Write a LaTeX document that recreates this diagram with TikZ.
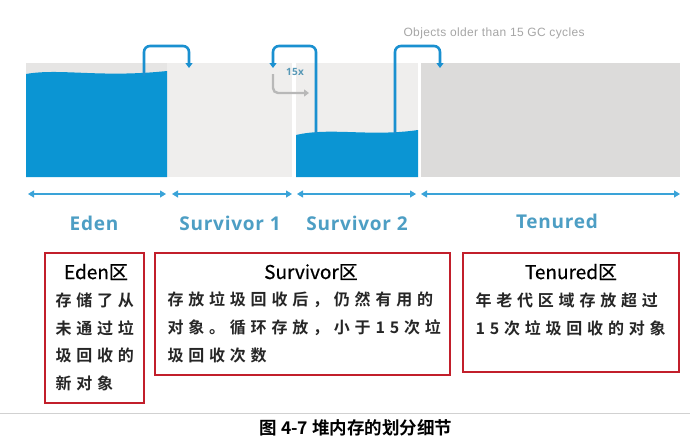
\documentclass[tikz,border=0pt]{standalone}
\usepackage{fontspec}
\setmainfont{Open Sans}
\newfontfamily\cjk[FakeBold=0.6]{Noto Sans CJK SC}
\newfontfamily\cjkb[LetterSpace=30]{Noto Sans CJK SC Bold}
\newfontfamily\capfont{Noto Sans CJK SC Bold}
\newfontfamily\lbl[LetterSpace=4]{Open Sans}
\newfontfamily\smallsans[LetterSpace=3]{Liberation Sans}
\usetikzlibrary{arrows.meta}
\definecolor{water}{HTML}{0B95D3}
\definecolor{lgrey}{HTML}{EFEEED}
\definecolor{tgrey}{HTML}{DCDBDA}
\definecolor{egrey}{HTML}{E6E5E4}
\definecolor{arrowblue}{HTML}{1A90D0}
\definecolor{dimblue}{HTML}{3AA3D8}
\definecolor{lbltxt}{HTML}{4D9EC4}
\definecolor{boxred}{HTML}{C21F2B}
\definecolor{greyarrow}{HTML}{B8B8B8}
\tikzset{
  region/.style={inner sep=0pt, outer sep=0pt, draw=none},
  flow/.style={draw=arrowblue, line width=2.6pt, rounded corners=6pt, -{Triangle[length=5pt,width=7pt]}},
  dim/.style={draw=dimblue, line width=1.1pt, {Triangle[length=6pt,width=7pt]}-{Triangle[length=6pt,width=7pt]}},
  zone/.style={font=\lbl\bfseries\fontsize{19}{22}\selectfont, text=lbltxt},
  redbox/.style={draw=boxred, line width=2.2pt, inner sep=0pt},
  btitle/.style={font=\cjk\fontsize{19}{21}\selectfont, text=black},
  bline/.style={font=\cjkb\fontsize{16}{18}\selectfont, anchor=west, text=black!85},
}
\begin{document}
\begin{tikzpicture}[x=1pt,y=-1pt]
\useasboundingbox (0,0) rectangle (690,442);
\fill[white] (0,0) rectangle (690,442);
% regions
\node[region, fill=egrey, minimum width=141pt, minimum height=114pt, anchor=north west] (eden) at (26,63) {};
\node[region, fill=lgrey, minimum width=125pt, minimum height=114pt, anchor=north west] (s1) at (167,63) {};
\node[region, fill=lgrey, minimum width=122pt, minimum height=114pt, anchor=north west] (s2) at (296,63) {};
\node[region, fill=tgrey, minimum width=259pt, minimum height=114pt, anchor=north west] (ten) at (421,63) {};
% water
\fill[water] (eden.south west) -- (26,74) .. controls (60,68) and (100,78) .. (167,71) -- (eden.south east) -- cycle;
\fill[water] (s2.south west) -- (296,135) .. controls (330,127) and (370,137) .. (418,130) -- (s2.south east) -- cycle;
% flow arrows
\coordinate (e1) at (144,76);
\coordinate (e2) at (189,68);
\draw[flow] (e1) |- (166,46) -| (e2);
\coordinate (r1) at (316,134);
\coordinate (r2) at (273,68);
\draw[flow] (r1) |- (295,46) -| (r2);
\coordinate (g1) at (273,74);
\coordinate (g2) at (309,93);
\draw[draw=greyarrow, line width=2.4pt, rounded corners=5pt, -{Triangle[length=5pt,width=7pt]}] (g1) |- (g2);
\node[font=\lbl\bfseries\fontsize{10}{12}\selectfont, text=lbltxt!80!gray] (n15) at (295,72) {15x};
\coordinate (t1) at (395,134);
\coordinate (t2) at (440,68);
\draw[flow] (t1) |- (418,46) -| (t2);
\node[font=\smallsans\fontsize{12}{14}\selectfont, text=black!35, anchor=west] (old) at (400,33) {Objects older than 15 GC cycles};
% dimension lines
\coordinate (d1a) at (28,194); \coordinate (d1b) at (166,194);
\coordinate (d2a) at (172,194); \coordinate (d2b) at (292,194);
\coordinate (d3a) at (297,194); \coordinate (d3b) at (416,194);
\coordinate (d4a) at (421,194); \coordinate (d4b) at (680,194);
\draw[dim] (d1a) -- (d1b);
\draw[dim] (d2a) -- (d2b);
\draw[dim] (d3a) -- (d3b);
\draw[dim] (d4a) -- (d4b);
\node[zone] (le) at (94,223) {Eden};
\node[zone] (ls1) at (230,223) {Survivor 1};
\node[zone] (ls2) at (357,223) {Survivor 2};
\node[zone] (lt) at (557,221) {Tenured};
% red boxes
\draw[redbox] (45,253) rectangle (144,403);
\draw[redbox] (155,253) rectangle (450,375);
\draw[redbox] (463,253) rectangle (679,372);
\node[btitle] (te) at (96,272) {Eden区};
\node[bline] (e11) at (52,300) {存储了从};
\node[bline] (e12) at (52,328) {未通过垃};
\node[bline] (e13) at (52,355) {圾回收的};
\node[bline] (e14) at (52,383) {新对象};
\node[btitle] (ts) at (311,272) {Survivor区};
\node[bline] (s11) at (164,300) {存放垃圾回收后，仍然有用的};
\node[bline] (s12) at (164,328) {对象。循环存放，小于15次垃};
\node[bline] (s13) at (164,355) {圾回收次数};
\node[btitle] (tt) at (571,272) {Tenured区};
\node[bline] (t11) at (472,300) {年老代区域存放超过};
\node[bline] (t12) at (472,328) {15次垃圾回收的对象};
% caption
\draw[black!18, line width=0.8pt] (0,413) -- (690,413);
\node[font=\capfont\fontsize{17.5}{19}\selectfont] (cap) at (356,428) {图 4-7 堆内存的划分细节};
\end{tikzpicture}
\end{document}
